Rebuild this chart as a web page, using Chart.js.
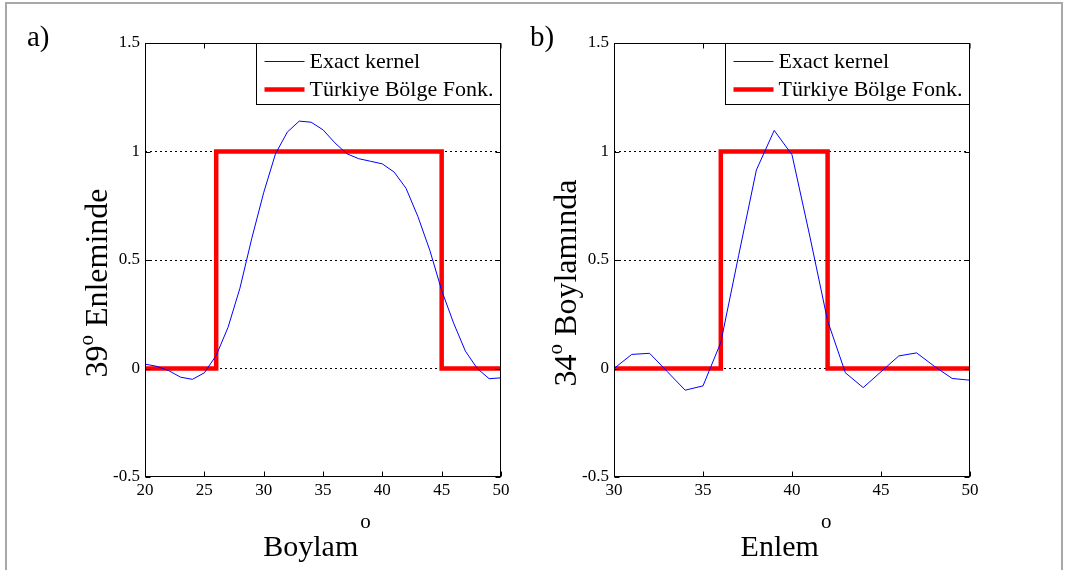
<!DOCTYPE html>
<html>
<head>
<meta charset="utf-8">
<script src="https://cdn.jsdelivr.net/npm/chart.js@4.4.1/dist/chart.umd.min.js"></script>
<style>
html,body{margin:0;padding:0;background:#fff;}
body{width:1067px;height:570px;position:relative;overflow:hidden;font-family:"Liberation Serif",serif;}
#frame{position:absolute;left:5px;top:2px;width:1054px;height:620px;border:2px solid #a8a8a8;}
.wrap{position:absolute;top:0;height:570px;}
</style>
</head>
<body>
<div id="frame"></div>
<div class="wrap" style="left:0;width:520px"><canvas id="ca" width="520" height="570" style="width:520px;height:570px"></canvas></div>
<div class="wrap" style="left:520px;width:547px"><canvas id="cb" width="547" height="570" style="width:547px;height:570px"></canvas></div>
<script>
// ---------- data ----------
const xA = [20,21,22,23,24,25,26,27,28,29,30,31,32,33,34,35,36,37,38,39,40,41,42,43,44,45,46,47,48,49,50];
const kernelA = [0.02,0.01,-0.01,-0.04,-0.05,-0.02,0.06,0.19,0.37,0.60,0.81,0.99,1.09,1.14,1.135,1.10,1.04,0.99,0.967,0.955,0.943,0.905,0.83,0.70,0.545,0.36,0.21,0.08,0.0,-0.047,-0.043];
const stepXA = [20,26,26,45,45,50];
const stepYA = [0,0,1,1,0,0];

const xB = [30,31,32,33,34,35,36,37,38,39,40,41,42,43,44,45,46,47,48,49,50];
const kernelB = [0.0,0.065,0.07,-0.015,-0.10,-0.08,0.12,0.52,0.915,1.097,0.985,0.61,0.22,-0.02,-0.088,-0.015,0.058,0.072,0.01,-0.046,-0.054];
const stepXB = [30,36,36,42,42,50];
const stepYB = [0,0,1,1,0,0];

const xTicksA = [20,25,30,35,40,45,50];
const xTicksB = [30,35,40,45,50];
const yTicks = [-0.5,0,0.5,1,1.5];
const yTickLabels = ['-0.5','0','0.5','1','1.5'];
const yGridValues = [0,0.5,1];

const legendLabels = ['Exact kernel','Türkiye Bölge Fonk.'];
const panelLabels = ['a)','b)'];
const xTitles = ['Boylam','Enlem'];
const yTitlesMain = ['39','34'];
const yTitlesRest = [' Enleminde',' Boylamında'];
const supText = 'o';

// ---------- helpers ----------
const FONT = '"Liberation Serif", "Times New Roman", serif';
const toPts = (xs, ys) => xs.map((x, i) => ({x: x, y: ys[i]}));

function decorPlugin(idx) {
  return {
    id: 'decor' + idx,
    afterDraw(chart) {
      const ctx = chart.ctx, a = chart.chartArea;
      const xs = chart.scales.x, ys = chart.scales.y;
      ctx.save();
      // axes box
      const L = Math.round(a.left) + 0.5, R = Math.round(a.right) - 0.5;
      const T = Math.round(a.top) + 0.5, B = Math.round(a.bottom) - 0.5;
      ctx.strokeStyle = '#000'; ctx.lineWidth = 1; ctx.setLineDash([]);
      ctx.strokeRect(L, T, R - L, B - T);
      // inward ticks
      const tl = 5;
      ctx.beginPath();
      xs.ticks.forEach(t => {
        const px = Math.round(xs.getPixelForValue(t.value)) + 0.5;
        ctx.moveTo(px, B); ctx.lineTo(px, B - tl);
        ctx.moveTo(px, T); ctx.lineTo(px, T + tl);
      });
      ys.ticks.forEach(t => {
        const py = Math.round(ys.getPixelForValue(t.value)) + 0.5;
        ctx.moveTo(L, py); ctx.lineTo(L + tl, py);
        ctx.moveTo(R, py); ctx.lineTo(R - tl, py);
      });
      ctx.stroke();

      // legend
      ctx.font = '22px ' + FONT;
      const tw = Math.max(...legendLabels.map(s => ctx.measureText(s).width));
      const bw = 53 + tw + 8, bh = 61;
      const bx = Math.round(a.right - bw) + 0.5, by = T;
      ctx.fillStyle = '#fff';
      ctx.fillRect(bx, by, bw, bh);
      ctx.strokeStyle = '#000'; ctx.lineWidth = 1;
      ctx.strokeRect(bx, by, R - bx, bh);
      const rows = [by + 18, by + 46];
      const cols = chart.data.datasets.map(d => d.borderColor);
      const widths = chart.data.datasets.map(d => d.borderWidth);
      rows.forEach((ry, i) => {
        ctx.beginPath();
        ctx.strokeStyle = cols[i]; ctx.lineWidth = widths[i];
        ctx.moveTo(bx + 8, ry); ctx.lineTo(bx + 48, ry); ctx.stroke();
        ctx.fillStyle = '#000'; ctx.textBaseline = 'middle'; ctx.textAlign = 'left';
        ctx.fillText(legendLabels[i], bx + 53, ry + 1);
      });

      // panel label
      ctx.fillStyle = '#000'; ctx.textAlign = 'left'; ctx.textBaseline = 'alphabetic';
      ctx.font = '29px ' + FONT;
      ctx.fillText(panelLabels[idx], idx === 0 ? 27 : 10, 46);

      // x title with superscript
      ctx.font = '30px ' + FONT;
      const w1 = ctx.measureText(xTitles[idx]).width;
      ctx.font = '21px ' + FONT;
      const w2 = ctx.measureText(supText).width;
      let sx = (a.left + a.right) / 2 - 6 - (w1 + 2 + w2) / 2;
      ctx.font = '30px ' + FONT;
      ctx.fillText(xTitles[idx], sx, 556);
      ctx.font = '21px ' + FONT;
      ctx.fillText(supText, sx + w1 + 2, 528);

      // y title rotated with superscript
      ctx.save();
      ctx.translate(a.left - 38, 283);
      ctx.rotate(-Math.PI / 2);
      ctx.font = '32px ' + FONT;
      const m1 = ctx.measureText(yTitlesMain[idx]).width;
      const m3 = ctx.measureText(yTitlesRest[idx]).width;
      ctx.font = '21px ' + FONT;
      const m2 = ctx.measureText(supText).width;
      let ox = -(m1 + m2 + m3) / 2;
      ctx.font = '32px ' + FONT;
      ctx.fillText(yTitlesMain[idx], ox, 0); ox += m1;
      ctx.font = '21px ' + FONT;
      ctx.fillText(supText, ox, -14); ox += m2;
      ctx.font = '32px ' + FONT;
      ctx.fillText(yTitlesRest[idx], ox, 0);
      ctx.restore();

      ctx.restore();
    }
  };
}

function makeChart(id, idx, xs, kern, sx, sy, xTicks, xmin, xmax, yAxisW, padRight) {
  return new Chart(document.getElementById(id), {
    type: 'line',
    data: {
      datasets: [
        {label: legendLabels[0], data: toPts(xs, kern), borderColor: '#0000ff', borderWidth: 1,
         pointRadius: 0, tension: 0, fill: false},
        {label: legendLabels[1], data: toPts(sx, sy), borderColor: '#ff0000', borderWidth: 4.5,
         pointRadius: 0, tension: 0, fill: false, borderJoinStyle: 'miter', borderCapStyle: 'butt'}
      ]
    },
    options: {
      responsive: false,
      animation: false,
      events: [],
      layout: {padding: {left: 0, right: padRight, top: 43, bottom: 0}},
      plugins: {legend: {display: false}, tooltip: {enabled: false}, title: {display: false}},
      scales: {
        x: {
          type: 'linear', min: xmin, max: xmax,
          afterBuildTicks: s => { s.ticks = xTicks.map(v => ({value: v})); },
          afterFit: s => { s.height = 93; },
          grid: {display: false, drawTicks: false},
          border: {display: false},
          ticks: {color: '#000', font: {family: FONT, size: 17}, padding: 3, maxRotation: 0,
                  autoSkip: false, callback: v => String(v)}
        },
        y: {
          type: 'linear', min: -0.5, max: 1.5,
          afterBuildTicks: s => { s.ticks = yTicks.map(v => ({value: v})); },
          afterFit: s => { s.width = yAxisW; },
          grid: {drawTicks: false, lineWidth: 1,
                 color: c => (c.tick && yGridValues.includes(c.tick.value)) ? '#000' : 'rgba(0,0,0,0)'},
          border: {display: false, dash: [2, 3]},
          ticks: {color: '#000', font: {family: FONT, size: 17}, padding: 5,
                  callback: v => yTickLabels[yTicks.indexOf(v)] ?? String(v)}
        }
      }
    },
    plugins: [decorPlugin(idx)]
  });
}

makeChart('ca', 0, xA, kernelA, stepXA, stepYA, xTicksA, 20, 50, 145, 19);
makeChart('cb', 1, xB, kernelB, stepXB, stepYB, xTicksB, 30, 50, 94, 97);
</script>
</body>
</html>
